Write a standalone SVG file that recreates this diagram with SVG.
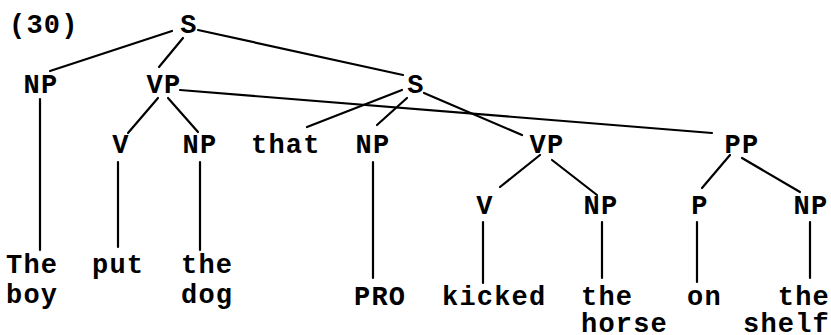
<svg xmlns="http://www.w3.org/2000/svg" width="831" height="335" viewBox="0 0 831 335">
  <style>
    text { font-family: "Liberation Mono", "Courier New", monospace; font-weight: bold; font-size: 27px; letter-spacing: 1.2px; fill: #000; }
    .c { text-anchor: middle; }
    .e { text-anchor: end; }
    #edges line { stroke: #000; stroke-width: 2.2; stroke-linecap: round; }
  </style>
  <rect width="831" height="335" fill="#fff"/>

  <text x="9" y="33">(30)</text>

  <g id="edges">
    <!-- top S -->
    <line x1="172" y1="31" x2="50" y2="71"/>
    <line x1="183" y1="38" x2="159" y2="67"/>
    <line x1="198" y1="30" x2="403" y2="75"/>
    <!-- upper VP -->
    <line x1="180" y1="90" x2="712" y2="133"/>
    <line x1="158" y1="98" x2="128" y2="133"/>
    <line x1="168" y1="98" x2="198" y2="132"/>
    <!-- embedded S -->
    <line x1="402" y1="90" x2="307" y2="127"/>
    <line x1="407" y1="98" x2="377" y2="125"/>
    <line x1="424" y1="93" x2="522" y2="135"/>
    <!-- lower VP and PP -->
    <line x1="540" y1="155" x2="500" y2="187"/>
    <line x1="552" y1="160" x2="597" y2="195"/>
    <line x1="730" y1="155" x2="702" y2="188"/>
    <line x1="742" y1="158" x2="800" y2="192"/>
    <!-- terminal branches -->
    <line x1="40" y1="99" x2="40" y2="250"/>
    <line x1="118" y1="162" x2="118" y2="247"/>
    <line x1="200" y1="162" x2="200" y2="250"/>
    <line x1="373" y1="162" x2="373" y2="278"/>
    <line x1="483" y1="222" x2="483" y2="283"/>
    <line x1="602" y1="222" x2="602" y2="278"/>
    <line x1="697" y1="222" x2="697" y2="282"/>
    <line x1="810" y1="222" x2="810" y2="278"/>
  </g>

  <g id="s-root"><text class="c" x="189" y="33">S</text></g>
  <g id="np-subj"><text class="c" x="41" y="93">NP</text></g>
  <g id="vp-main"><text class="c" x="164" y="93">VP</text></g>
  <g id="s-emb"><text class="c" x="416" y="93">S</text></g>
  <g id="v-put"><text class="c" x="121" y="153">V</text></g>
  <g id="np-obj"><text class="c" x="200" y="153">NP</text></g>
  <g id="comp"><text x="251" y="153">that</text></g>
  <g id="np-pro"><text class="c" x="373" y="153">NP</text></g>
  <g id="vp-emb"><text class="c" x="547" y="153">VP</text></g>
  <g id="pp"><text class="c" x="742" y="153">PP</text></g>
  <g id="v-kicked"><text class="c" x="485" y="214">V</text></g>
  <g id="np-horse"><text class="c" x="601" y="214">NP</text></g>
  <g id="p-on"><text class="c" x="700" y="214">P</text></g>
  <g id="np-shelf"><text class="c" x="811" y="214">NP</text></g>

  <g id="w-theboy"><text x="6" y="273">The</text><text x="6" y="303">boy</text></g>
  <g id="w-put"><text x="92" y="273">put</text></g>
  <g id="w-thedog"><text x="181" y="273">the</text><text x="181" y="303">dog</text></g>
  <g id="w-pro"><text x="354" y="305">PRO</text></g>
  <g id="w-kicked"><text x="442" y="305">kicked</text></g>
  <g id="w-thehorse"><text x="581" y="305">the</text><text x="581" y="332">horse</text></g>
  <g id="w-on"><text x="687" y="305">on</text></g>
  <g id="w-theshelf"><text class="e" x="830" y="305">the</text><text class="e" x="830" y="332">shelf</text></g>
</svg>
